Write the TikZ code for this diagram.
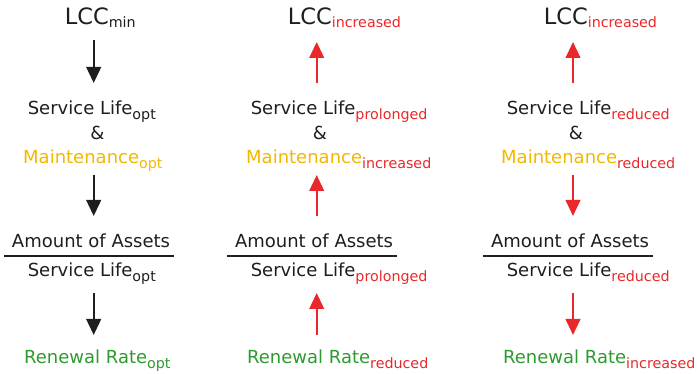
\documentclass[tikz,border=0pt]{standalone}
\usepackage{fontspec}
\setmainfont{DejaVu Sans}
\usetikzlibrary{arrows.meta}
\definecolor{txtblack}{HTML}{1E1E1E}
\definecolor{gold}{HTML}{F2B800}
\definecolor{grn}{HTML}{2E9B2E}
\definecolor{rd}{HTML}{E8282A}
\newcommand{\mainsz}{\fontsize{13.5pt}{16pt}\selectfont}
\newcommand{\bigsz}{\fontsize{16.9pt}{19pt}\selectfont}
\newcommand{\subsz}{\fontsize{10.7pt}{12pt}\selectfont}
% \lblsub{shift}{color}{text}
\newcommand{\lblsub}[3]{\raisebox{-#1}{\subsz\color{#2}#3}}
\begin{document}
\begin{tikzpicture}[x=0.75pt,y=-0.75pt,
  lbl/.style={anchor=base west,inner sep=0pt,outer sep=0pt,font=\mainsz,text=txtblack},
  amp/.style={anchor=base,inner sep=0pt,font=\mainsz,text=txtblack},
  arrk/.style={line width=1.5pt,draw=txtblack,-{Triangle[length=12pt,width=11pt]}},
  arrr/.style={line width=1.5pt,draw=rd,-{Triangle[length=12pt,width=11pt]}},
  frac/.style={line width=1.5pt,draw=txtblack}]
\useasboundingbox (0,0) rectangle (697,374);

% ---------- column 1 ----------
\node[lbl,font=\bigsz] (lcc1) at (64.8,25) {LCC\lblsub{1.9pt}{txtblack}{min}};
\node[lbl] (sl1) at (27.8,115) {Service Life\lblsub{3.5pt}{txtblack}{opt}};
\node[amp] (and1) at (97.5,139.5) {\&};
\node[lbl,text=gold] (mt1) at (23.2,163.3) {Maintenance\lblsub{3.75pt}{gold}{opt}};
\node[lbl] (am1) at (12,248) {Amount of Assets};
\node[lbl] (sb1) at (27.8,276.7) {Service Life\lblsub{3.75pt}{txtblack}{opt}};
\node[lbl,text=grn] (rr1) at (24.2,363.3) {Renewal Rate\lblsub{3.75pt}{grn}{opt}};
\coordinate (f1a) at (4,255.7); \coordinate (f1b) at (174,255.7);
\draw[frac] (f1a) -- (f1b);
\coordinate (a1s) at (93.7,40); \coordinate (a1e) at (93.7,83);
\coordinate (b1s) at (93.7,175); \coordinate (b1e) at (93.7,216);
\coordinate (c1s) at (93.7,293); \coordinate (c1e) at (93.7,335);
\draw[arrk] (a1s) -- (a1e);
\draw[arrk] (b1s) -- (b1e);
\draw[arrk] (c1s) -- (c1e);

% ---------- column 2 ----------
\node[lbl,font=\bigsz] (lcc2) at (287.8,25) {LCC\lblsub{1.9pt}{rd}{increased}};
\node[lbl] (sl2) at (250.8,115) {Service Life\lblsub{3.75pt}{rd}{prolonged}};
\node[amp] (and2) at (320,139.5) {\&};
\node[lbl,text=gold] (mt2) at (246.2,163.3) {Maintenance\lblsub{3.75pt}{rd}{increased}};
\node[lbl] (am2) at (235,248) {Amount of Assets};
\node[lbl] (sb2) at (250.8,276.7) {Service Life\lblsub{3.75pt}{rd}{prolonged}};
\node[lbl,text=grn] (rr2) at (247.2,363.3) {Renewal Rate\lblsub{3.75pt}{rd}{reduced}};
\coordinate (f2a) at (227,255.7); \coordinate (f2b) at (397,255.7);
\draw[frac] (f2a) -- (f2b);
\coordinate (a2s) at (316.7,83); \coordinate (a2e) at (316.7,42);
\coordinate (b2s) at (316.7,216); \coordinate (b2e) at (316.7,175);
\coordinate (c2s) at (316.7,335); \coordinate (c2e) at (316.7,293);
\draw[arrr] (a2s) -- (a2e);
\draw[arrr] (b2s) -- (b2e);
\draw[arrr] (c2s) -- (c2e);

% ---------- column 3 ----------
\node[lbl,font=\bigsz] (lcc3) at (543.8,25) {LCC\lblsub{1.9pt}{rd}{increased}};
\node[lbl] (sl3) at (506.8,115) {Service Life\lblsub{3.75pt}{rd}{reduced}};
\node[amp] (and3) at (576,139.5) {\&};
\node[lbl,text=gold] (mt3) at (501.2,163.3) {Maintenance\lblsub{3.75pt}{rd}{reduced}};
\node[lbl] (am3) at (491,248) {Amount of Assets};
\node[lbl] (sb3) at (506.8,276.7) {Service Life\lblsub{3.75pt}{rd}{reduced}};
\node[lbl,text=grn] (rr3) at (503.2,363.3) {Renewal Rate\lblsub{3.75pt}{rd}{increased}};
\coordinate (f3a) at (483,255.7); \coordinate (f3b) at (653,255.7);
\draw[frac] (f3a) -- (f3b);
\coordinate (a3s) at (573,83); \coordinate (a3e) at (573,42);
\coordinate (b3s) at (573,175); \coordinate (b3e) at (573,216);
\coordinate (c3s) at (573,293); \coordinate (c3e) at (573,335);
\draw[arrr] (a3s) -- (a3e);
\draw[arrr] (b3s) -- (b3e);
\draw[arrr] (c3s) -- (c3e);
\end{tikzpicture}
\end{document}
